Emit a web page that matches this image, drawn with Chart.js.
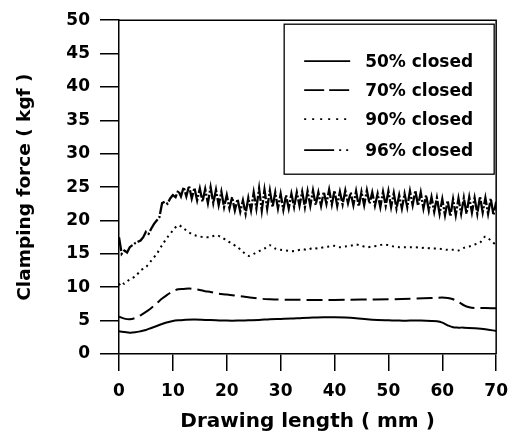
<!DOCTYPE html>
<html lang="en">
<head>
    <meta charset="UTF-8">
    <title>Clamping force vs drawing length</title>
    <script src="https://cdn.jsdelivr.net/npm/chart.js"></script>
    <style>
        body { margin: 0; background: #fff; }
        canvas { display: block; }
    </style>
</head>
<body>
<canvas id="chart" width="518" height="434"></canvas>

<script>
    // data (x = drawing length in mm, y = clamping force in kgf)
    const seriesNames = ['50% closed', '70% closed', '90% closed', '96% closed'];

    const len50 = [0, 1, 2, 3, 4, 5, 6, 7, 8, 9, 10, 11, 12, 14, 16, 18, 20, 22, 24, 26, 28, 30, 32, 34, 36, 38, 40, 42, 44, 46, 48, 50, 52, 54, 56, 58, 59, 60, 61, 62, 63, 64, 66, 68, 70];
    const force50 = [3.4, 3.3, 3.2, 3.25, 3.4, 3.6, 3.9, 4.2, 4.5, 4.75, 4.95, 5.05, 5.1, 5.15, 5.1, 5.05, 5.0, 5.0, 5.05, 5.1, 5.2, 5.25, 5.3, 5.4, 5.45, 5.5, 5.5, 5.45, 5.35, 5.2, 5.1, 5.05, 5.0, 5.0, 5.0, 4.95, 4.9, 4.7, 4.3, 4.0, 3.95, 3.95, 3.85, 3.7, 3.45];

    const len70 = [0, 1, 2, 3, 4, 5, 6, 7, 8, 9, 10, 11, 12, 13, 14, 15, 16, 17, 18, 20, 22, 24, 26, 28, 30, 35, 40, 45, 50, 55, 58, 60, 61, 62, 63, 64, 65, 66, 68, 70];
    const force70 = [5.6, 5.3, 5.2, 5.4, 5.8, 6.3, 6.9, 7.6, 8.3, 8.9, 9.4, 9.7, 9.75, 9.8, 9.7, 9.6, 9.4, 9.3, 9.1, 8.9, 8.7, 8.5, 8.3, 8.2, 8.15, 8.1, 8.1, 8.15, 8.2, 8.3, 8.4, 8.45, 8.4, 8.2, 7.8, 7.3, 7.0, 6.9, 6.9, 6.85];

    const len90 = [0, 0.5, 1, 2, 3, 4, 5, 6, 7, 8, 9, 10, 11, 12, 13, 14, 15, 16, 17, 18, 19, 20, 21, 22, 23, 24, 25, 26, 27, 28, 29, 30, 31, 32, 33, 34, 35, 36, 37, 38, 39, 40, 41, 42, 43, 44, 45, 46, 47, 48, 49, 50, 51, 52, 53, 54, 55, 56, 57, 58, 59, 60, 61, 62, 63, 64, 65, 66, 67, 68, 69, 70];
    const force90 = [10.3, 10.8, 10.5, 11.2, 11.6, 12.5, 13.0, 14.0, 15.0, 16.3, 17.5, 18.5, 19.3, 18.8, 18.2, 17.8, 17.6, 17.5, 17.5, 17.8, 17.5, 17.0, 16.5, 16.0, 15.3, 14.7, 15.0, 15.4, 15.8, 16.3, 15.8, 15.6, 15.5, 15.4, 15.5, 15.7, 15.6, 15.9, 15.8, 16.0, 16.1, 16.2, 16.0, 16.1, 16.2, 16.4, 16.2, 16.0, 16.1, 16.2, 16.4, 16.3, 16.1, 16.0, 16.0, 16.0, 16.0, 15.9, 15.9, 15.8, 15.8, 15.7, 15.6, 15.6, 15.5, 15.9, 16.1, 16.4, 16.7, 17.6, 17.0, 16.3];

    const len96 = [0, 0.5, 1, 1.5, 2, 2.5, 3, 3.5, 4, 4.5, 5, 5.5, 6, 6.5, 7, 7.5, 8, 8.5, 9, 9.5,
        10, 10.5, 11, 11.5, 12, 12.5, 13, 13.5, 14, 14.5, 15, 15.5, 16, 16.5, 17, 17.5, 18, 18.5, 19, 19.5,
        20, 20.5, 21, 21.5, 22, 22.5, 23, 23.5, 24, 24.5, 25, 25.5, 26, 26.5, 27, 27.5, 28, 28.5, 29, 29.5,
        30, 30.5, 31, 31.5, 32, 32.5, 33, 33.5, 34, 34.5, 35, 35.5, 36, 36.5, 37, 37.5, 38, 38.5, 39, 39.5,
        40, 40.5, 41, 41.5, 42, 42.5, 43, 43.5, 44, 44.5, 45, 45.5, 46, 46.5, 47, 47.5, 48, 48.5, 49, 49.5,
        50, 50.5, 51, 51.5, 52, 52.5, 53, 53.5, 54, 54.5, 55, 55.5, 56, 56.5, 57, 57.5, 58, 58.5, 59, 59.5,
        60, 60.5, 61, 61.5, 62, 62.5, 63, 63.5, 64, 64.5, 65, 65.5, 66, 66.5, 67, 67.5, 68, 68.5, 69, 69.5, 70];
    const force96 = [17.5, 15.0, 15.5, 15.2, 16.0, 16.3, 16.6, 16.8, 17.0, 17.5, 18.3, 18.0, 18.8, 19.5, 20.0, 20.5, 22.6, 22.8, 22.5, 23.3,
        23.8, 23.5, 24.5, 23.6, 25.0, 23.6, 25.2, 23.3, 24.9, 23.0, 24.8, 22.8, 24.7, 22.6, 25.0, 22.6, 24.6, 22.3, 24.3, 22.0,
        23.8, 21.8, 23.5, 21.5, 23.2, 21.3, 23.0, 21.0, 23.4, 21.5, 24.2, 21.8, 24.8, 21.5, 24.6, 21.8, 24.5, 22.0, 24.2, 21.8,
        24.0, 21.6, 23.8, 21.8, 24.0, 22.0, 24.2, 22.2, 24.3, 22.0, 24.4, 22.2, 24.5, 22.3, 24.2, 22.2, 24.3, 22.5, 24.6, 22.4,
        24.5, 22.2, 24.3, 22.4, 24.5, 22.6, 24.2, 22.3, 24.4, 22.1, 24.3, 22.3, 24.5, 22.5, 24.2, 22.2, 24.0, 22.0, 24.3, 22.2,
        24.4, 22.0, 24.1, 21.8, 23.8, 21.8, 24.0, 22.0, 24.4, 22.3, 24.5, 22.2, 24.2, 21.8, 23.8, 21.5, 23.5, 21.3, 23.4, 21.0,
        23.2, 20.8, 23.0, 20.6, 23.2, 20.8, 23.3, 21.0, 23.4, 21.0, 23.5, 21.2, 23.4, 21.0, 23.6, 21.2, 23.4, 21.0, 23.3, 20.8, 22.8];

    const xTicks = [0, 10, 20, 30, 40, 50, 60, 70];
    const yTicks = [0, 5, 10, 15, 20, 25, 30, 35, 40, 45, 50];

    function pairs(xs, ys) {
        return xs.map((x, i) => ({ x: x, y: ys[i] }));
    }

    Chart.defaults.font.family = 'DejaVu Sans';
    Chart.defaults.color = '#000';

    // top/right border of the plot + legend box inside the plot
    const framePlugin = {
        id: 'frame',
        afterDraw(chart) {
            const ctx = chart.ctx;
            const a = chart.chartArea;
            ctx.save();
            ctx.strokeStyle = '#000';
            ctx.lineWidth = 1.5;
            ctx.beginPath();
            ctx.moveTo(a.left, a.top);
            ctx.lineTo(a.right, a.top);
            ctx.lineTo(a.right, a.bottom);
            ctx.stroke();

            // legend
            const bx = a.right - 212, by = a.top + 4;
            ctx.lineWidth = 1.3;
            ctx.strokeRect(bx, by, 210, 150);
            ctx.font = 'bold 17px "DejaVu Sans"';
            ctx.textBaseline = 'middle';
            ctx.fillStyle = '#000';
            const rows = [37, 66, 95, 126];
            chart.data.datasets.forEach((ds, i) => {
                const y = by + rows[i];
                ctx.save();
                ctx.lineWidth = 1.8;
                ctx.setLineDash(ds.legendDash);
                ctx.beginPath();
                ctx.moveTo(bx + 20, y);
                ctx.lineTo(bx + 66, y);
                ctx.stroke();
                ctx.restore();
                ctx.fillText(ds.label, bx + 81, y + 1);
            });
            ctx.restore();
        }
    };

    new Chart(document.getElementById('chart'), {
        type: 'line',
        data: {
            datasets: [
                { label: seriesNames[0], data: pairs(len50, force50), borderDash: [], legendDash: [], tension: 0.35, borderWidth: 2 },
                { label: seriesNames[1], data: pairs(len70, force70), borderDash: [16, 6], legendDash: [20, 5], tension: 0.35, borderWidth: 2 },
                { label: seriesNames[2], data: pairs(len90, force90), borderDash: [2, 4], legendDash: [2, 6], tension: 0.3, borderWidth: 2 },
                { label: seriesNames[3], data: pairs(len96, force96), borderDash: [14, 2, 2, 2], legendDash: [30, 5, 2, 5, 2, 5], tension: 0, borderWidth: 2.3 }
            ].map(ds => Object.assign(ds, { borderColor: '#000', backgroundColor: '#000', pointRadius: 0, fill: false }))
        },
        options: {
            responsive: false,
            animation: false,
            layout: { padding: { top: 18, right: 20, left: 0, bottom: 0 } },
            plugins: {
                legend: { display: false },
                tooltip: { enabled: false }
            },
            scales: {
                x: {
                    type: 'linear',
                    min: 0,
                    max: 70,
                    afterFit: s => { s.height = 80; },
                    afterBuildTicks: s => { s.ticks = xTicks.map(v => ({ value: v })); },
                    border: { color: '#000', width: 1.5 },
                    grid: { drawOnChartArea: false, color: '#000', lineWidth: 1.5, tickLength: 17 },
                    ticks: { font: { size: 17, weight: 'bold' }, padding: 10, maxRotation: 0 },
                    title: { display: true, text: 'Drawing length ( mm )', font: { size: 20, weight: 'bold' }, padding: { top: 0, bottom: 0 } }
                },
                y: {
                    min: 0,
                    max: 50,
                    afterFit: s => { s.width = 119; },
                    afterBuildTicks: s => { s.ticks = yTicks.map(v => ({ value: v })); },
                    border: { color: '#000', width: 1.5 },
                    grid: { drawOnChartArea: false, color: '#000', lineWidth: 1.5, tickLength: 19 },
                    ticks: { font: { size: 17, weight: 'bold' }, padding: 10 },
                    title: { display: true, text: 'Clamping force ( kgf )', font: { size: 18.5, weight: 'bold' }, padding: { top: 14, bottom: 0 } }
                }
            }
        },
        plugins: [framePlugin]
    });
</script>
</body>
</html>
